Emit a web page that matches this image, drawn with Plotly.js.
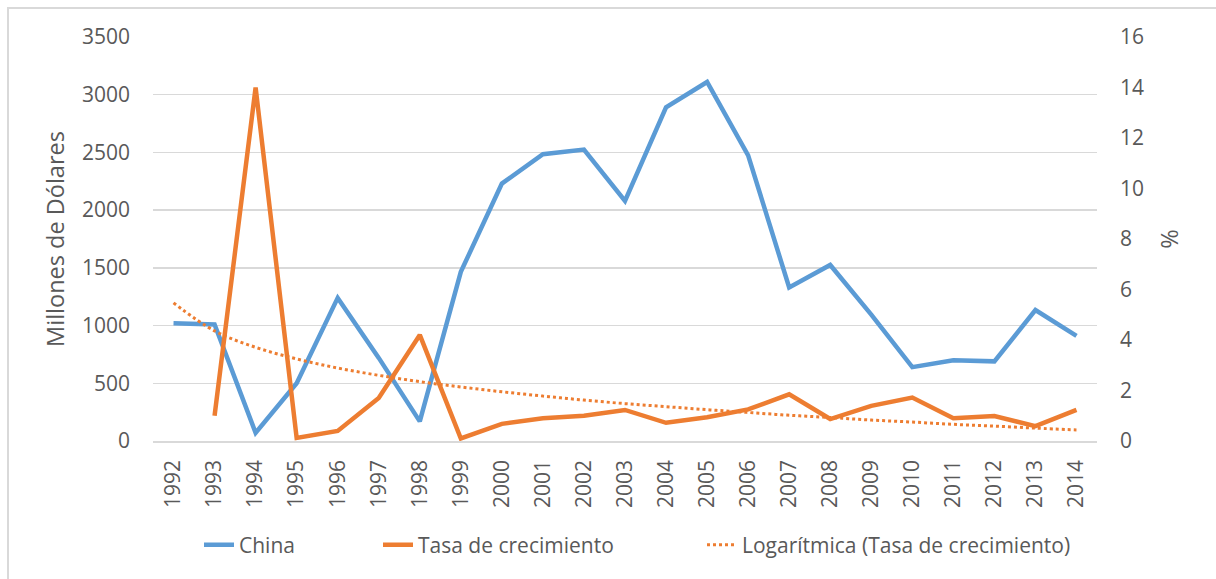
<!DOCTYPE html>
<html>
<head>
<meta charset="utf-8">
<script src="https://cdn.plot.ly/plotly-3.0.1.min.js"></script>
<style>
  html, body { margin: 0; padding: 0; background: #ffffff; }
  #frame { position: absolute; left: 0; top: 0; width: 1216px; height: 579px; }
  #border { position: absolute; left: 7px; top: 7px; width: 1209px; height: 572px;
            border-left: 2px solid #D9D9D9; border-top: 2px solid #D9D9D9; pointer-events: none; }
  #chart { position: absolute; left: 0; top: 0; width: 1216px; height: 579px; }
</style>
</head>
<body>
<div id="frame">
  <div id="chart"></div>
  <div id="border"></div>
</div>
<script>
// ---- data ----
const years = ['1992','1993','1994','1995','1996','1997','1998','1999','2000','2001','2002','2003',
               '2004','2005','2006','2007','2008','2009','2010','2011','2012','2013','2014'];

// China, millions of dollars (left axis)
const china = [1020, 1010, 70, 500, 1240, 720, 170, 1465, 2230, 2485, 2525, 2080,
               2890, 3110, 2475, 1330, 1525, 1095, 640, 700, 690, 1135, 910];

// Growth rate, % (right axis)
const tasa = [null, 1.0, 14.0, 0.12, 0.4, 1.7, 4.2, 0.1, 0.68, 0.9, 1.0, 1.23,
              0.72, 0.94, 1.25, 1.85, 0.87, 1.39, 1.72, 0.9, 0.99, 0.59, 1.23];

// Logarithmic trendline of the growth rate, % (right axis), read per year
const tendencia = [5.47, 4.36, 3.71, 3.25, 2.89, 2.60, 2.35, 2.14, 1.95, 1.78, 1.62, 1.48,
                   1.36, 1.24, 1.13, 1.02, 0.93, 0.83, 0.75, 0.66, 0.59, 0.51, 0.44];

const names = ['China', 'Tasa de crecimiento', 'Logarítmica (Tasa de crecimiento)'];
const leftTitle = 'Millones de Dólares';
const rightTitle = '%';

// ---- styling ----
const BLUE = '#5B9BD5';
const ORANGE = '#ED7D31';
const GRID = '#D9D9D9';
const TEXT = '#595959';
const FONT = 'Open Sans, Liberation Sans, sans-serif';

const traces = [
  {
    x: years, y: china, name: names[0], type: 'scatter', mode: 'lines',
    line: { color: BLUE, width: 4.5, shape: 'linear' }, yaxis: 'y', legend: 'legend'
  },
  {
    x: years, y: tasa, name: names[1], type: 'scatter', mode: 'lines',
    line: { color: ORANGE, width: 4.5, shape: 'linear' }, yaxis: 'y2', connectgaps: false,
    legend: 'legend2'
  },
  {
    x: years, y: tendencia, name: names[2], type: 'scatter', mode: 'lines',
    line: { color: ORANGE, width: 3, dash: 'dot', shape: 'spline' }, yaxis: 'y2',
    legend: 'legend3'
  }
];

// plot area: x 153..1097, y 37..441
const PL = 153, PW = 944, PT = 37, PH = 404;
function px(xPix) { return (xPix - PL) / PW; }
const legY = -(545 - (PT + PH)) / PH;
function legendAt(textLeft) {
  return {
    orientation: 'h',
    x: px(textLeft - 41), xanchor: 'left',
    y: legY, yanchor: 'middle',
    font: { family: FONT, size: 21, color: TEXT },
    bgcolor: 'rgba(0,0,0,0)',
    itemwidth: 30
  };
}

const layout = {
  width: 1216, height: 579,
  margin: { l: PL, r: 1216 - PL - PW, t: PT, b: 579 - PT - PH, pad: 0 },
  paper_bgcolor: '#ffffff', plot_bgcolor: '#ffffff',
  font: { family: FONT, color: TEXT, size: 20 },
  showlegend: true,
  hovermode: false,
  xaxis: {
    type: 'category',
    range: [-0.5, 22.5],
    tickangle: -90,
    showgrid: false,
    zeroline: false,
    showline: true, linecolor: GRID, linewidth: 1.5,
    ticks: '',
    ticklabelstandoff: 9,
    tickfont: { family: FONT, size: 21, color: TEXT },
    fixedrange: true
  },
  yaxis: {
    range: [0, 3500], dtick: 500, tick0: 0,
    showgrid: true, gridcolor: GRID, gridwidth: 1.5,
    zeroline: false, showline: false, ticks: '',
    ticklabelstandoff: 22,
    tickfont: { family: FONT, size: 21, color: TEXT },
    title: { text: leftTitle, font: { family: FONT, size: 23.5, color: TEXT }, standoff: 10 },
    fixedrange: true
  },
  yaxis2: {
    overlaying: 'y', side: 'right',
    range: [0, 16], dtick: 2, tick0: 0,
    showgrid: false, zeroline: false, showline: false, ticks: '',
    ticklabelstandoff: 22,
    tickfont: { family: FONT, size: 21, color: TEXT },
    title: { text: rightTitle, font: { family: FONT, size: 23.5, color: TEXT }, standoff: 18 },
    fixedrange: true
  },
  legend: legendAt(240),
  legend2: legendAt(419),
  legend3: legendAt(743)
};

Plotly.newPlot('chart', traces, layout, { staticPlot: true, displayModeBar: false });
</script>
</body>
</html>
